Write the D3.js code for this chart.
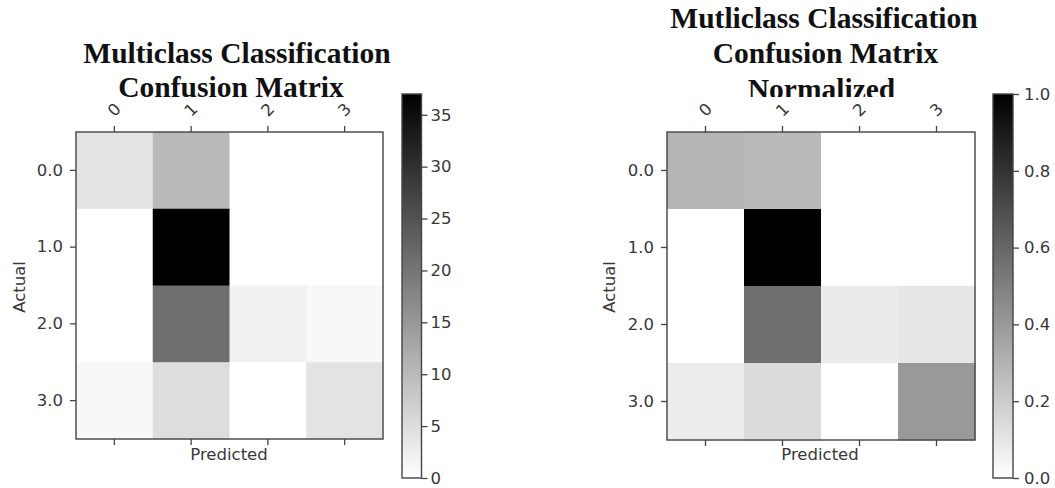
<!DOCTYPE html>
<html>
<head>
<meta charset="utf-8">
<script src="https://cdn.jsdelivr.net/npm/d3@7"></script>
<style>
  html, body { margin: 0; padding: 0; background: #fff; }
  svg { display: block; }
  .tick text { font-family: "DejaVu Sans", sans-serif; font-size: 16.5px; fill: #383838; }
  .tick line { stroke: #444; stroke-width: 1.3; }
  .axis-label { font-family: "DejaVu Sans", sans-serif; font-size: 16.5px; fill: #383838; }
  .title { font-family: "Liberation Serif", serif; font-weight: bold; font-size: 29.5px; fill: #111; }
</style>
</head>
<body>
<svg id="chart" width="1055" height="488"></svg>
<script>
// Class indices along both axes
const classes = [0, 1, 2, 3];
const predictedTickLabels = ["0", "1", "2", "3"];
const actualTickLabels = ["0.0", "1.0", "2.0", "3.0"];

// Raw counts: rows = actual class, columns = predicted class
const counts = [
  [4, 10, 0, 0],
  [0, 37, 0, 0],
  [0, 21, 2, 1],
  [1, 5, 0, 4]
];
// Normalized matrix
const normalized = [
  [0.29, 0.27, 0.00, 0.00],
  [0.00, 1.00, 0.00, 0.00],
  [0.00, 0.57, 0.08, 0.10],
  [0.07, 0.14, 0.00, 0.40]
];

const countMax = 37;
const normMax = 1.0;
const countTicks = [0, 5, 10, 15, 20, 25, 30, 35];
const normTicks = [0.0, 0.2, 0.4, 0.6, 0.8, 1.0];

const countTitle = ["Multiclass Classification", "Confusion Matrix"];
const normTitle = ["Mutliclass Classification", "Confusion Matrix", "Normalized"];

const svg = d3.select("#chart");
const defs = svg.append("defs");

function drawPanel(cfg) {
  const g = svg.append("g");

  // Title (the last line of the normalized title is cut off by the plot area)
  const tg = g.append("g");
  if (cfg.titleClip) {
    defs.append("clipPath").attr("id", cfg.id + "-title-clip")
      .append("rect").attr("x", 0).attr("y", 0).attr("width", 1055).attr("height", cfg.titleClip);
    tg.attr("clip-path", `url(#${cfg.id}-title-clip)`);
  }
  tg.selectAll("text").data(cfg.title).join("text")
    .attr("class", "title")
    .attr("text-anchor", "middle")
    .attr("x", (d, i) => cfg.titlePos[i][0])
    .attr("y", (d, i) => cfg.titlePos[i][1])
    .text(d => d);

  const x = d3.scaleBand().domain(classes).range([cfg.mx, cfg.mx + cfg.ms]);
  const y = d3.scaleBand().domain(classes).range([cfg.my, cfg.my + cfg.ms]);
  const color = d3.scaleLinear().domain([0, cfg.vmax]).range(["#ffffff", "#000000"]);

  // Cells
  const cells = [];
  cfg.data.forEach((row, r) => row.forEach((v, c) => cells.push({ r, c, v })));
  g.append("g").selectAll("rect").data(cells).join("rect")
    .attr("x", d => x(d.c))
    .attr("y", d => y(d.r))
    .attr("width", x.bandwidth() + 0.5)
    .attr("height", y.bandwidth() + 0.5)
    .attr("fill", d => color(d.v));

  // Frame
  g.append("rect")
    .attr("x", cfg.mx).attr("y", cfg.my)
    .attr("width", cfg.ms).attr("height", cfg.ms)
    .attr("fill", "none").attr("stroke", "#444").attr("stroke-width", 1.4);

  // Top axis with rotated predicted labels
  const top = g.append("g").attr("transform", `translate(0,${cfg.my})`)
    .call(d3.axisTop(x).tickSize(6).tickFormat(i => predictedTickLabels[i]));
  top.select(".domain").remove();
  top.selectAll(".tick text")
    .attr("y", 0).attr("dy", null)
    .attr("dominant-baseline", "central")
    .attr("transform", "translate(0,-22) rotate(-45)");

  // Bottom ticks without labels
  const bottom = g.append("g").attr("transform", `translate(0,${cfg.my + cfg.ms})`)
    .call(d3.axisBottom(x).tickSize(6).tickFormat(""));
  bottom.select(".domain").remove();

  // Left axis with actual labels
  const left = g.append("g").attr("transform", `translate(${cfg.mx},0)`)
    .call(d3.axisLeft(y).tickSize(6).tickPadding(7).tickFormat(i => actualTickLabels[i]));
  left.select(".domain").remove();

  // Axis titles
  g.append("text").attr("class", "axis-label")
    .attr("transform", `translate(${cfg.actualPos[0]},${cfg.actualPos[1]}) rotate(-90)`)
    .attr("text-anchor", "middle")
    .text("Actual");
  g.append("text").attr("class", "axis-label")
    .attr("x", cfg.predPos[0]).attr("y", cfg.predPos[1])
    .attr("text-anchor", "middle")
    .text("Predicted");

  // Colorbar
  const grad = defs.append("linearGradient").attr("id", cfg.id + "-grad")
    .attr("x1", 0).attr("y1", 1).attr("x2", 0).attr("y2", 0);
  grad.append("stop").attr("offset", 0).attr("stop-color", color(0));
  grad.append("stop").attr("offset", 1).attr("stop-color", color(cfg.vmax));

  const cbScale = d3.scaleLinear().domain([0, cfg.vmax]).range([cfg.cbBottom, cfg.cbTop]);
  g.append("rect")
    .attr("x", cfg.cbx).attr("y", cfg.cbTop)
    .attr("width", cfg.cbw).attr("height", cfg.cbBottom - cfg.cbTop)
    .attr("fill", `url(#${cfg.id}-grad)`)
    .attr("stroke", "#444").attr("stroke-width", 1.4);

  const cbAxis = g.append("g").attr("transform", `translate(${cfg.cbx + cfg.cbw},0)`)
    .call(d3.axisRight(cbScale).tickValues(cfg.ticks).tickSize(6).tickPadding(cfg.cbPad).tickFormat(cfg.tickFormat));
  cbAxis.select(".domain").remove();
}

drawPanel({
  id: "counts",
  data: counts, vmax: countMax, ticks: countTicks, tickFormat: d3.format("d"),
  title: countTitle, titlePos: [[237, 63], [231, 97]],
  mx: 76, my: 132, ms: 307,
  cbx: 402, cbw: 19.5, cbTop: 94, cbBottom: 478, cbPad: 3,
  actualPos: [25, 287], predPos: [229, 459.5]
});

drawPanel({
  id: "norm",
  data: normalized, vmax: normMax, ticks: normTicks, tickFormat: d3.format(".1f"),
  title: normTitle, titlePos: [[824, 28], [825.5, 63], [821.5, 99]], titleClip: 97,
  mx: 667, my: 132, ms: 308,
  cbx: 993, cbw: 20, cbTop: 94, cbBottom: 478, cbPad: 5,
  actualPos: [615, 287], predPos: [820, 460]
});
</script>
</body>
</html>
